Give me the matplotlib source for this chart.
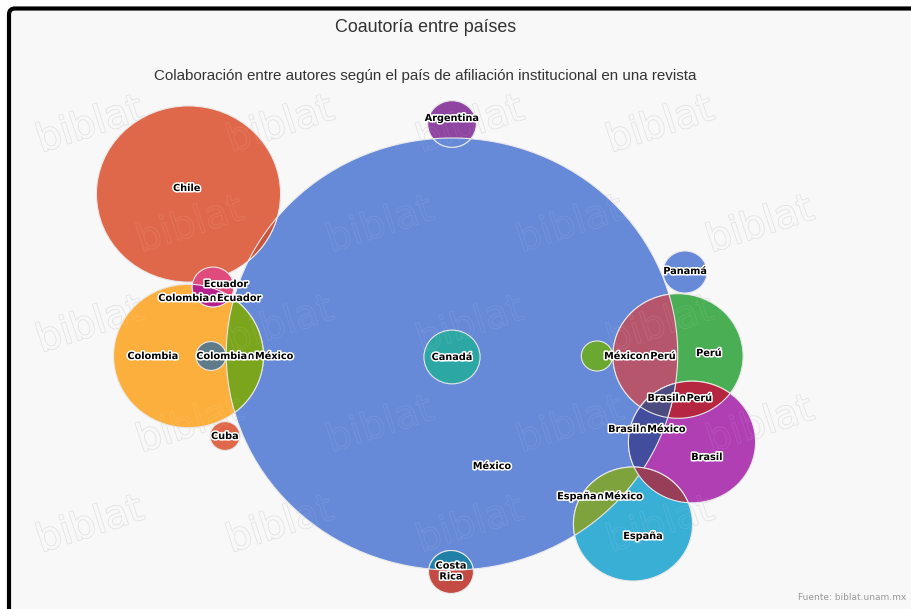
import numpy as np
import matplotlib.pyplot as plt
from matplotlib.patches import Circle, Polygon, FancyBboxPatch
import matplotlib.patheffects as pe

# Sets: name, value (number of articles), layout centre in pixels, colour
set_names = ["México", "Chile", "Colombia", "Ecuador", "Cuba", "Colombia_2",
             "Canadá", "Argentina", "Costa Rica", "Panamá", "Perú_2",
             "Perú", "Brasil", "España"]
set_values = [517, 86, 57, 4.4, 2.3, 2.3, 8, 6, 5.1, 4.9, 2.5, 43, 41, 36]
set_x = [452, 188.5, 188.5, 213, 225, 211, 452, 452, 451, 685, 597, 678, 692, 633]
set_y = [354, 194, 356, 287, 436, 356, 357, 124, 572, 272, 356, 356, 442, 524]
set_colors = ["#6689d8", "#e0684a", "#fcaf3c", "#e04a7c", "#e0684a", "#5f7a89",
              "#2da7a3", "#8e44a0", "#c44a44", "#6689d8", "#6aa832",
              "#4aae54", "#b03fb4", "#3aafd5"]
set_labels = ["México", "Chile", "Colombia", "Ecuador", "Cuba", "",
              "Canadá", "Argentina", "Costa\nRica", "Panamá", "",
              "Perú", "Brasil", "España"]
label_x = [492, 187, 153, 226, 225, 0, 452, 452, 451, 685, 0, 709, 707, 643]
label_y = [466, 188, 356, 284, 436, 0, 357, 118, 571, 271, 0, 353, 457, 536]

# Intersections drawn as lenses
inter_sets = [("México", "Chile"), ("México", "Colombia"), ("Colombia", "Ecuador"),
              ("México", "Costa Rica"), ("México", "Argentina"),
              ("México", "Perú"), ("Brasil", "Perú"), ("Brasil", "México"),
              ("España", "México"), ("Brasil", "España"),
              ("Brasil", "México", "Perú")]
inter_colors = ["#c9553f", "#7aa51c", "#b5208f", "#2180a8", "#6689d8",
                "#b6566c", "#b52640", "#424d9e", "#7fa33c", "#983e58", "#4c4c80"]
inter_labels = ["", "Colombia∩México", "Colombia∩Ecuador", "", "",
                "México∩Perú", "Brasil∩Perú", "Brasil∩México", "España∩México", "", ""]
inter_lx = [0, 245, 210, 0, 0, 640, 680, 647, 600, 0, 0]
inter_ly = [0, 356, 298, 0, 0, 356, 398, 429, 496, 0, 0]

SX = 1.045          # horizontal stretch of the reference image
K = 216 / np.sqrt(517)

radius = {n: K * np.sqrt(v) for n, v in zip(set_names, set_values)}
centre = {n: (x / SX, y) for n, x, y in zip(set_names, set_x, set_y)}


def region(names):
    # convex intersection of several circles, sampled on the boundaries
    pts = []
    t = np.linspace(0, 2 * np.pi, 1440, endpoint=False)
    for n in names:
        cx, cy = centre[n]
        r = radius[n]
        p = np.column_stack([cx + r * np.cos(t), cy + r * np.sin(t)])
        keep = np.ones(len(p), bool)
        for m in names:
            if m == n:
                continue
            mx, my = centre[m]
            keep &= np.hypot(p[:, 0] - mx, p[:, 1] - my) <= radius[m] + 1e-6
        pts.append(p[keep])
    pts = np.vstack(pts)
    c = pts.mean(axis=0)
    order = np.argsort(np.arctan2(pts[:, 1] - c[1], pts[:, 0] - c[0]))
    return pts[order]


fig = plt.figure(figsize=(9.12, 6.09), dpi=100)
fig.patch.set_facecolor("white")
frame = FancyBboxPatch((0.09, -0.3), 9.4, 6.005 + 0.3,
                       boxstyle="round,pad=0,rounding_size=0.06",
                       transform=fig.dpi_scale_trans, facecolor="#f8f8f8",
                       edgecolor="black", linewidth=3, zorder=-10)
fig.patches.append(frame)

ax = fig.add_axes([0, 0, 1, 1])
ax.set_facecolor("none")
ax.set_xlim(0, 912 / SX)
ax.set_ylim(609, 0)
ax.axis("off")

# faint watermark (grey outline under the bubbles, light outline over them)
for i in range(5):
    for j in range(5):
        xw = 90 + (i % 2) * 100 + j * 190
        if xw > 820:
            continue
        ax.text(xw / SX, 125 + i * 100, "biblat", fontsize=28, color="#f8f8f8",
                rotation=18, ha="center", va="center", zorder=0,
                path_effects=[pe.withStroke(linewidth=1.2, foreground="#e2e2e2")])
        ax.text(xw / SX, 125 + i * 100, "biblat", fontsize=28,
                color=(1, 1, 1, 0), rotation=18, ha="center", va="center",
                zorder=4,
                path_effects=[pe.Stroke(linewidth=0.8,
                                        foreground=(1, 1, 1, 0.08))])

for n, col in zip(set_names, set_colors):
    ax.add_patch(Circle(centre[n], radius[n], facecolor=col,
                        edgecolor="#e8e8e8", linewidth=0.8, zorder=2))

for names, col in zip(inter_sets, inter_colors):
    ax.add_patch(Polygon(region(names), closed=True, facecolor=col,
                         edgecolor="#e8e8e8", linewidth=0.8, zorder=3))

outline = [pe.withStroke(linewidth=2.2, foreground="white")]
for lab, x, y in list(zip(set_labels, label_x, label_y)) + \
        list(zip(inter_labels, inter_lx, inter_ly)):
    if lab:
        ax.text(x / SX, y, lab, fontsize=7, fontweight="bold", color="black",
                ha="center", va="center", zorder=5, path_effects=outline,
                linespacing=1.1)

fig.text(426 / 912, 1 - 27 / 609, "Coautoría entre países", fontsize=12.9,
         family="Liberation Sans", color="#333333", ha="center", va="center")
fig.text(425 / 912, 1 - 76 / 609,
         "Colaboración entre autores según el país de afiliación institucional en una revista",
         fontsize=10.9, family="Liberation Sans", color="#333333",
         ha="center", va="center")
fig.text(906 / 912, 1 - 598 / 609, "Fuente: biblat.unam.mx", fontsize=6.5,
         color="#999999", ha="right", va="center")

fig.savefig("out.png", dpi=100)
